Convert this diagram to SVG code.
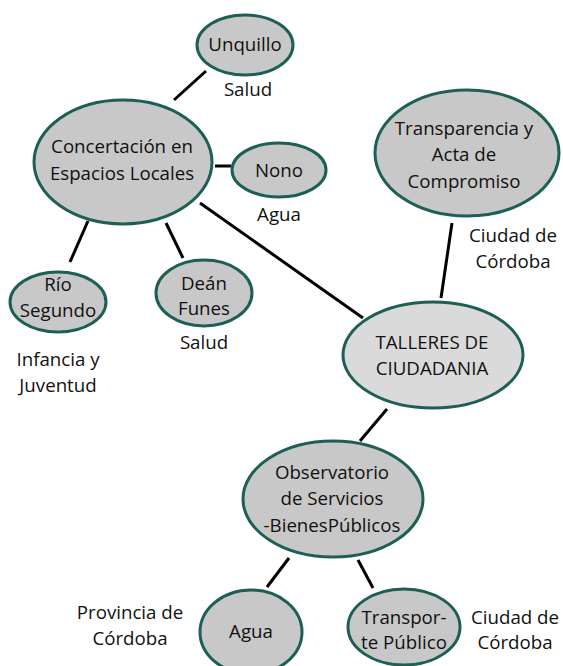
<svg xmlns="http://www.w3.org/2000/svg" width="563" height="666" viewBox="0 0 563 666">
<style>
.n{fill:#c8c8c8;stroke:#1d5f54;stroke-width:3}
.l{fill:#dadada;stroke:#1d5f54;stroke-width:3}
text{font-family:"Open Sans","Liberation Sans",sans-serif;font-size:18.7px;fill:#111;text-anchor:middle}
.c line{stroke:#000;stroke-width:3}
</style>
<rect width="563" height="666" fill="#fff"/>
<g class="c" id="connectors">
<line x1="206" y1="71" x2="174" y2="100"/>
<line x1="215" y1="166" x2="231" y2="166"/>
<line x1="200" y1="203" x2="363" y2="318"/>
<line x1="88" y1="221" x2="70" y2="262"/>
<line x1="166" y1="223" x2="183" y2="258"/>
<line x1="452" y1="223" x2="441" y2="298"/>
<line x1="387" y1="409" x2="360" y2="441"/>
<line x1="289" y1="558" x2="267" y2="587"/>
<line x1="358" y1="560" x2="373" y2="588"/>
</g>
<g id="unquillo"><ellipse class="n" cx="245" cy="45" rx="48" ry="30"/><text x="245" y="51">Unquillo</text></g>
<g id="lbl-salud1"><text x="248" y="96">Salud</text></g>
<g id="concertacion"><ellipse class="n" cx="123" cy="162" rx="89" ry="62"/><text x="122" y="153">Concertación en</text><text x="122" y="180">Espacios Locales</text></g>
<g id="nono"><ellipse class="n" cx="279" cy="170" rx="47" ry="27"/><text x="279" y="177">Nono</text></g>
<g id="lbl-agua1"><text x="279" y="221">Agua</text></g>
<g id="rio"><ellipse class="n" cx="58" cy="302" rx="48" ry="30"/><text x="58" y="291">Río</text><text x="58" y="317">Segundo</text></g>
<g id="lbl-infancia"><text x="58" y="366">Infancia y</text><text x="58" y="392">Juventud</text></g>
<g id="dean"><ellipse class="n" cx="204" cy="293" rx="48" ry="33"/><text x="204" y="290">Deán</text><text x="204" y="315">Funes</text></g>
<g id="lbl-salud2"><text x="204" y="349">Salud</text></g>
<g id="transparencia"><ellipse class="n" cx="467" cy="153" rx="92" ry="63"/><text x="464" y="135">Transparencia y</text><text x="464" y="161">Acta de</text><text x="464" y="188">Compromiso</text></g>
<g id="lbl-ciudad1"><text x="513" y="242">Ciudad de</text><text x="513" y="268">Córdoba</text></g>
<g id="talleres"><ellipse class="l" cx="433" cy="355" rx="90" ry="53"/><text x="432" y="349">TALLERES DE</text><text x="432" y="375">CIUDADANIA</text></g>
<g id="observatorio"><ellipse class="n" cx="333" cy="499" rx="90" ry="58"/><text x="332" y="479">Observatorio</text><text x="332" y="505">de Servicios</text><text x="332" y="532">-BienesPúblicos</text></g>
<g id="agua"><ellipse class="n" cx="251" cy="632" rx="51" ry="42"/><text x="251" y="638">Agua</text></g>
<g id="transporte"><ellipse class="n" cx="404" cy="627" rx="56" ry="38"/><text x="404" y="624">Transpor-</text><text x="404" y="649">te Público</text></g>
<g id="lbl-provincia"><text x="130" y="619">Provincia de</text><text x="130" y="645">Córdoba</text></g>
<g id="lbl-ciudad2"><text x="515" y="624">Ciudad de</text><text x="515" y="649">Córdoba</text></g>
</svg>
